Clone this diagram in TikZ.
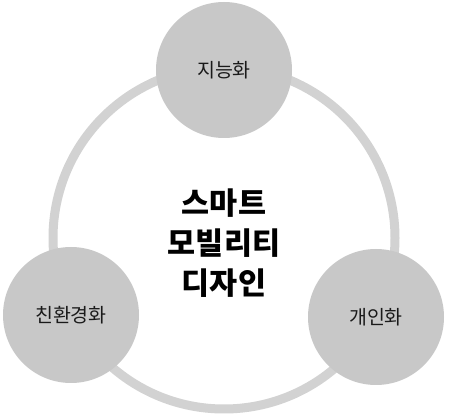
\documentclass[tikz,border=0pt]{standalone}
\usepackage{fontspec}
\newfontfamily\kr{Noto Sans CJK KR}
\definecolor{ringgray}{HTML}{D2D2D2}
\definecolor{bubblegray}{HTML}{C8C8C8}
\definecolor{labelgray}{HTML}{1A1A1A}
\begin{document}
\begin{tikzpicture}[x=1pt,y=-1pt]
\tikzset{
  ringstyle/.style={circle, draw=ringgray, line width=9pt, minimum size=342pt, inner sep=0pt},
  bubble/.style={circle, fill=bubblegray, minimum size=136pt, inner sep=0pt, text=labelgray,
    font=\kr\fontsize{19.5}{22}\selectfont},
  titlestyle/.style={align=center, text=black, font=\kr\bfseries\fontsize{30.5}{40}\selectfont}
}
\fill[white] (0,0) rectangle (450,419);
\useasboundingbox (0,0) rectangle (450,419);
\node[ringstyle] (ring) at (224,238) {};
\node[bubble] (top) at (224,70) {지능화};
\node[bubble] (left) at (71,315) {친환경화};
\node[bubble] (right) at (376,317) {개인화};
\node[titlestyle] (title) at (224,243) {스마트\\모빌리티\\디자인};
\end{tikzpicture}
\end{document}
